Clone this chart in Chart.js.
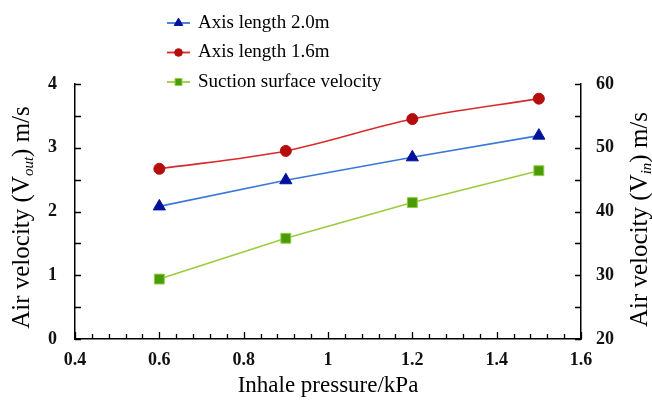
<!DOCTYPE html>
<html><head><meta charset="utf-8">
<script src="https://cdn.jsdelivr.net/npm/chart.js@4.4.1/dist/chart.umd.min.js"></script>
<style>html,body{margin:0;padding:0;background:#fff}#wrap{width:652px;height:403px}</style>
</head><body><div id="wrap"><canvas id="c" width="652" height="403"></canvas></div>
<script>
const pressure = [0.6, 0.9, 1.2, 1.5];
const axis20 = [2.08, 2.49, 2.85, 3.19];
const axis16 = [2.67, 2.95, 3.45, 3.77];
const suction = [29.4, 35.8, 41.4, 46.4];
const xTicks = [0.4, 0.6, 0.8, 1, 1.2, 1.4, 1.6];
const leftTicks = [0, 1, 2, 3, 4];
const rightTicks = [20, 30, 40, 50, 60];
const seriesNames = ['Axis length 2.0m', 'Axis length 1.6m', 'Suction surface velocity'];
const xTitle = 'Inhale pressure/kPa';
const leftTitle = ['Air velocity (V', 'out', ') m/s'];
const rightTitle = ['Air velocity (V', 'in', ') m/s'];

const SERIF = '"Liberation Serif", "Times New Roman", serif';
const pts = arr => pressure.map((p, i) => ({x: p, y: arr[i]}));

const styles = [
  {line: '#3a78d8', fill: '#00129c', border: '#00129c', shape: 'triangle', r: 7},
  {line: '#d82a2a', fill: '#b50c0c', border: '#b50c0c', shape: 'circle', r: 5.5},
  {line: '#9ccc3c', fill: '#4b9a08', border: '#8cd040', shape: 'rect', r: 7}
];

function drawShape(ctx, shape, x, y, r, fill, border) {
  ctx.save();
  ctx.fillStyle = fill; ctx.strokeStyle = border; ctx.lineWidth = 1;
  ctx.beginPath();
  if (shape === 'circle') ctx.arc(x, y, r, 0, Math.PI * 2);
  else if (shape === 'triangle') {
    ctx.moveTo(x, y - r); ctx.lineTo(x + r * 0.866, y + r * 0.5); ctx.lineTo(x - r * 0.866, y + r * 0.5); ctx.closePath();
  } else { const s = r * Math.SQRT1_2; ctx.rect(x - s, y - s, 2 * s, 2 * s); }
  ctx.fill(); ctx.stroke();
  ctx.restore();
}

function drawRotTitle(ctx, parts, cx, cy) {
  ctx.save();
  ctx.translate(cx, cy); ctx.rotate(-Math.PI / 2);
  const main = '25px ' + SERIF, sub = 'italic 15px ' + SERIF;
  ctx.font = main; const w0 = ctx.measureText(parts[0]).width, w2 = ctx.measureText(parts[2]).width;
  ctx.font = sub; const w1 = ctx.measureText(parts[1]).width;
  const total = w0 + w1 + w2;
  let x = -total / 2;
  ctx.fillStyle = '#000'; ctx.textBaseline = 'alphabetic'; ctx.textAlign = 'left';
  ctx.font = main; ctx.fillText(parts[0], x, 8); x += w0;
  ctx.font = sub; ctx.fillText(parts[1], x, 12); x += w1;
  ctx.font = main; ctx.fillText(parts[2], x, 8);
  ctx.restore();
}

const decor = {
  id: 'decor',
  afterDraw(chart) {
    const ctx = chart.ctx, xs = chart.scales.x, yl = chart.scales.y, yr = chart.scales.y1;
    const a = chart.chartArea;
    ctx.save();
    ctx.strokeStyle = '#000'; ctx.lineWidth = 1.3;
    ctx.beginPath();
    for (let i = 0; i <= 8; i++) { const y = Math.round(yl.getPixelForValue(i * 0.5)) + 0.5; ctx.moveTo(a.left, y); ctx.lineTo(a.left + 6, y); }
    for (let i = 0; i <= 8; i++) { const y = Math.round(yr.getPixelForValue(20 + i * 5)) + 0.5; ctx.moveTo(a.right, y); ctx.lineTo(a.right - 6, y); }
    for (let i = 0; i <= 30; i++) {
      const v = 0.4 + i * 0.04; const x = Math.round(xs.getPixelForValue(v)) + 0.5;
      const len = (i % 5 === 0) ? 7 : 5;
      ctx.moveTo(x, a.bottom); ctx.lineTo(x, a.bottom - len);
    }
    ctx.stroke();
    ctx.restore();

    ctx.save();
    ctx.fillStyle = '#000'; ctx.font = '23px ' + SERIF; ctx.textAlign = 'center'; ctx.textBaseline = 'middle';
    ctx.fillText(xTitle, (a.left + a.right) / 2, 386);
    ctx.restore();
    drawRotTitle(ctx, leftTitle, 21, (a.top + a.bottom) / 2 + 6);
    drawRotTitle(ctx, rightTitle, 639, (a.top + a.bottom) / 2 + 8);

    ctx.save();
    seriesNames.forEach((name, i) => {
      const y = 23 + i * 29.5, st = styles[i];
      ctx.strokeStyle = st.line; ctx.lineWidth = 1.8;
      ctx.beginPath(); ctx.moveTo(167, y); ctx.lineTo(190, y); ctx.stroke();
      drawShape(ctx, st.shape, 178.5, y, st.r * 0.7, st.fill, st.border);
      ctx.fillStyle = '#000'; ctx.font = '19px ' + SERIF; ctx.textAlign = 'left'; ctx.textBaseline = 'middle';
      ctx.fillText(name, 198, y);
    });
    ctx.restore();
  }
};

const mk = (label, arr, st, axis, extra) => Object.assign({
  label, data: pts(arr), yAxisID: axis,
  borderColor: st.line, borderWidth: 1.6, backgroundColor: st.fill,
  pointStyle: st.shape, pointRadius: st.r, pointBackgroundColor: st.fill, pointBorderColor: st.border, pointBorderWidth: 1,
  showLine: true, tension: 0, fill: false
}, extra || {});

const tickFont = {family: SERIF, size: 18, weight: 'bold'};
const fmt = v => String(+Number(v).toFixed(2));

new Chart(document.getElementById('c'), {
  type: 'scatter',
  data: {
    datasets: [
      mk(seriesNames[0], axis20, styles[0], 'y'),
      mk(seriesNames[1], axis16, styles[1], 'y', {cubicInterpolationMode: 'monotone'}),
      mk(seriesNames[2], suction, styles[2], 'y1')
    ]
  },
  options: {
    responsive: false, animation: false, devicePixelRatio: 1,
    layout: {padding: {top: 84, left: 0, right: 0, bottom: 0}},
    plugins: {legend: {display: false}, tooltip: {enabled: false}},
    scales: {
      x: {
        type: 'linear', position: 'bottom', min: 0.4, max: 1.6,
        afterBuildTicks: s => { s.ticks = xTicks.map(v => ({value: v})); },
        afterFit: s => { s.height = 64; },
        ticks: {font: tickFont, color: '#111', padding: 11, maxRotation: 0, callback: fmt},
        grid: {drawOnChartArea: false, drawTicks: false},
        border: {display: true, color: '#000', width: 1.5}
      },
      y: {
        type: 'linear', position: 'left', min: 0, max: 4,
        afterBuildTicks: s => { s.ticks = leftTicks.map(v => ({value: v})); },
        afterFit: s => { s.width = 75; },
        ticks: {font: tickFont, color: '#111', padding: 18, callback: fmt},
        grid: {drawOnChartArea: false, drawTicks: false},
        border: {display: true, color: '#000', width: 1.5}
      },
      y1: {
        type: 'linear', position: 'right', min: 20, max: 60,
        afterBuildTicks: s => { s.ticks = rightTicks.map(v => ({value: v})); },
        afterFit: s => { s.width = 71; },
        ticks: {font: tickFont, color: '#111', padding: 15, callback: fmt},
        grid: {drawOnChartArea: false, drawTicks: false},
        border: {display: true, color: '#000', width: 1.5}
      }
    }
  },
  plugins: [decor]
});
</script>
</body></html>
